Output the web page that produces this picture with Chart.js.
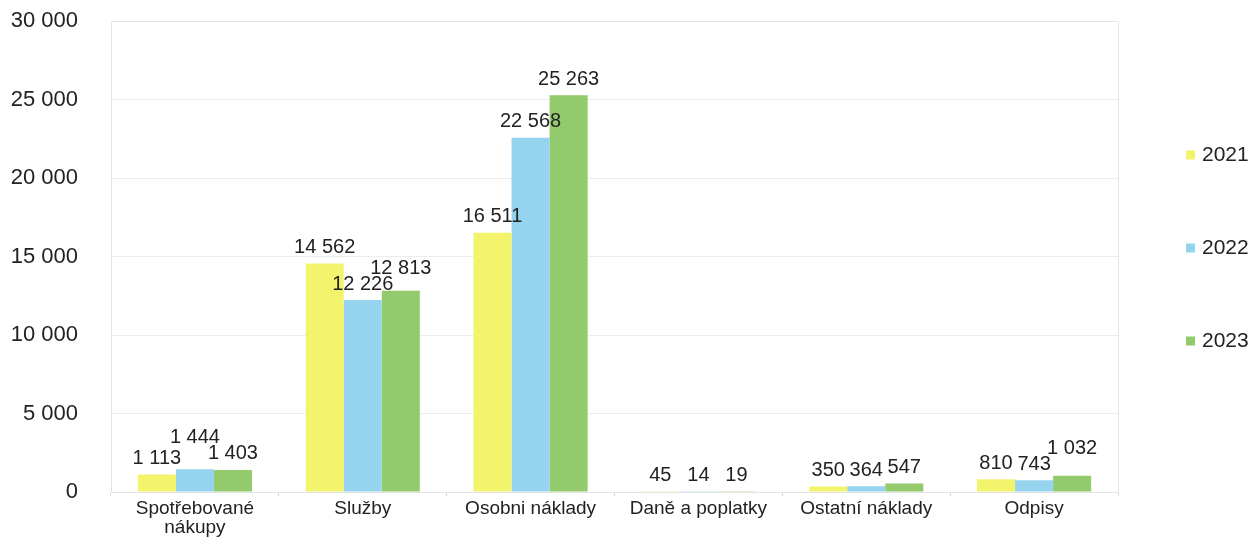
<!DOCTYPE html>
<html lang="cs">
<head>
<meta charset="utf-8">
<script src="https://cdn.jsdelivr.net/npm/chart.js@4.4.1/dist/chart.umd.min.js"></script>
<style>
  html, body { margin: 0; padding: 0; background: #ffffff; }
  #wrap { width: 1256px; height: 551px; position: relative; }
</style>
</head>
<body>
<div id="wrap"><canvas id="c"></canvas></div>
<script>
// Nákladové položky (v tis. Kč)
const categories = [['Spotřebované', 'nákupy'], 'Služby', 'Osobni náklady', 'Daně a poplatky', 'Ostatní náklady', 'Odpisy'];
const years = ['2021', '2022', '2023'];
const values2021 = [1113, 14562, 16511, 45, 350, 810];
const values2022 = [1444, 12226, 22568, 14, 364, 743];
const values2023 = [1403, 12813, 25263, 19, 547, 1032];
const yTicks = [0, 5000, 10000, 15000, 20000, 25000, 30000];

const colors = ['#f3f46c', '#95d3ee', '#92ca6c'];
const FONT = "'Liberation Sans', Arial, sans-serif";
const TEXT = '#222222';

function fmt(v) {
  return String(v).replace(/\B(?=(\d{3})+(?!\d))/g, ' ');
}

// Hodnoty nad sloupci; při překryvu se popisek vyššího sloupce posune nahoru
const valueLabels = {
  id: 'valueLabels',
  afterDatasetsDraw(chart) {
    const ctx = chart.ctx;
    const h = 16;
    ctx.save();
    ctx.font = '20px ' + FONT;
    ctx.fillStyle = TEXT;
    ctx.textAlign = 'center';
    ctx.textBaseline = 'middle';
    const nSets = chart.data.datasets.length;
    chart.data.labels.forEach((_, j) => {
      const boxes = [];
      for (let i = 0; i < nSets; i++) {
        const bar = chart.getDatasetMeta(i).data[j];
        const v = chart.data.datasets[i].data[j];
        const text = fmt(v);
        boxes.push({ text, v, x: bar.x, y: bar.y - 16, w: ctx.measureText(text).width });
      }
      for (let i = 1; i < boxes.length; i++) {
        const a = boxes[i - 1], b = boxes[i];
        const overlapX = Math.abs(a.x - b.x) < (a.w + b.w) / 2 + 2;
        const overlapY = Math.abs(a.y - b.y) < h;
        if (overlapX && overlapY) {
          if (b.v >= a.v) b.y = a.y - h;
          else a.y = b.y - h;
        }
      }
      boxes.forEach(b => ctx.fillText(b.text, b.x, b.y));
    });
    ctx.restore();
  }
};

// Rámeček oblasti grafu
const plotFrame = {
  id: 'plotFrame',
  beforeDatasetsDraw(chart) {
    const a = chart.chartArea;
    const ctx = chart.ctx;
    ctx.save();
    ctx.strokeStyle = '#e4e4e4';
    ctx.lineWidth = 1;
    ctx.strokeRect(a.left + 0.5, a.top + 0.5, a.right - a.left, a.bottom - a.top);
    ctx.restore();
  }
};

// Legenda vpravo, svisle pod sebou
const sideLegend = {
  id: 'sideLegend',
  afterDraw(chart) {
    const a = chart.chartArea;
    const ctx = chart.ctx;
    const mid = (a.top + a.bottom) / 2 - 9;
    const step = 93;
    ctx.save();
    ctx.font = '21px ' + FONT;
    ctx.textAlign = 'left';
    ctx.textBaseline = 'middle';
    chart.data.datasets.forEach((ds, i) => {
      const y = mid + (i - 1) * step;
      ctx.fillStyle = ds.backgroundColor;
      ctx.fillRect(1186, y - 4, 9, 9);
      ctx.fillStyle = TEXT;
      ctx.fillText(ds.label, 1202, y + 1);
    });
    ctx.restore();
  }
};

new Chart(document.getElementById('c'), {
  type: 'bar',
  data: {
    labels: categories,
    datasets: [
      { label: years[0], data: values2021, backgroundColor: colors[0] },
      { label: years[1], data: values2022, backgroundColor: colors[1] },
      { label: years[2], data: values2023, backgroundColor: colors[2] }
    ]
  },
  options: {
    responsive: true,
    maintainAspectRatio: false,
    animation: false,
    layout: { padding: { left: 8, right: 138, top: 0, bottom: 11 } },
    categoryPercentage: 0.68,
    barPercentage: 1.0,
    plugins: {
      legend: { display: false },
      tooltip: { enabled: false }
    },
    scales: {
      x: {
        grid: { display: true, drawOnChartArea: false, color: '#d9d9d9', tickLength: 4 },
        border: { color: '#d9d9d9' },
        ticks: { font: { family: FONT, size: 19, lineHeight: 1.0 }, color: TEXT, padding: 3, maxRotation: 0 }
      },
      y: {
        min: 0,
        max: 30000,
        afterBuildTicks(axis) { axis.ticks = yTicks.map(v => ({ value: v })); },
        afterFit(axis) {
          axis.width = 103;
          axis.paddingTop = 21;
          axis.paddingBottom = 13;
        },
        grid: { color: '#ececec', drawTicks: false },
        border: { display: false },
        ticks: {
          font: { family: FONT, size: 22 },
          color: TEXT,
          padding: 33,
          callback: v => fmt(v)
        }
      }
    }
  },
  plugins: [valueLabels, plotFrame, sideLegend]
});
</script>
</body>
</html>
